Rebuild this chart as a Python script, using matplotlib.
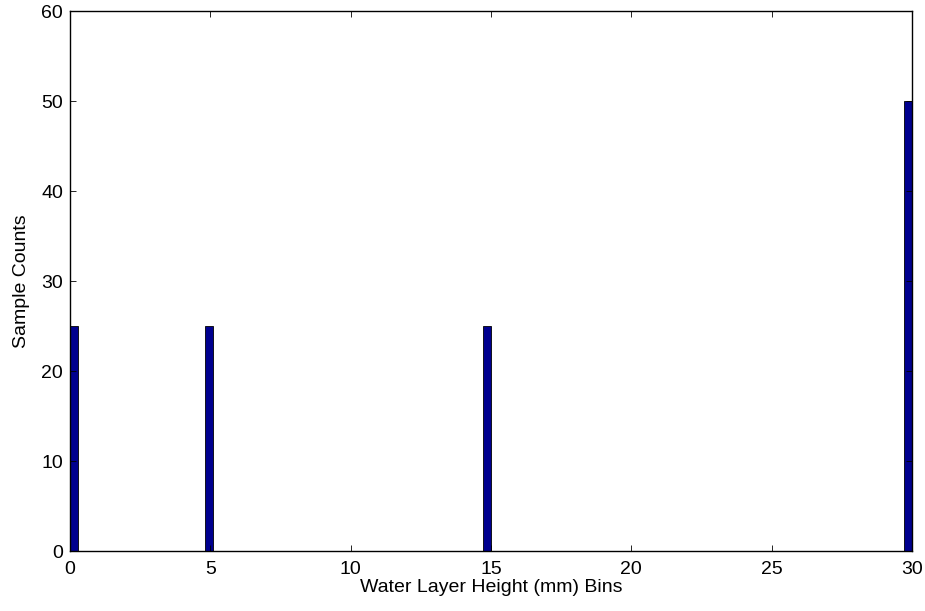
import matplotlib
matplotlib.use("Agg")
import matplotlib.pyplot as plt

bin_left_edges = [0.0, 4.8, 14.7, 29.7]
bin_width = 0.3
counts = [25, 25, 25, 50]
x_ticks = [0, 5, 10, 15, 20, 25, 30]
y_ticks = [0, 10, 20, 30, 40, 50, 60]

plt.rcParams['font.family'] = ['Liberation Sans', 'DejaVu Sans']
fig = plt.figure(figsize=(9.25, 6.11), dpi=100)
ax = fig.add_axes([70/925, 1-551/611, (912-70)/925, (551-11)/611])
ax.bar(bin_left_edges, counts, width=bin_width, align='edge',
       color='#00008f', edgecolor='black', linewidth=0.6)
ax.set_xlim(0, 30)
ax.set_ylim(0, 60)
ax.set_xticks(x_ticks)
ax.set_yticks(y_ticks)
ax.tick_params(direction='in', length=4, width=0.6, top=True, right=True, labelsize=14)
ax.tick_params(axis='x', pad=7)
ax.tick_params(axis='y', pad=5)
for s in ax.spines.values():
    s.set_linewidth(1.0)
ax.set_xlabel('Water Layer Height (mm) Bins', fontsize=14, labelpad=1)
ax.set_ylabel('Sample Counts', fontsize=14, labelpad=8)
fig.savefig('out.png', dpi=100)
